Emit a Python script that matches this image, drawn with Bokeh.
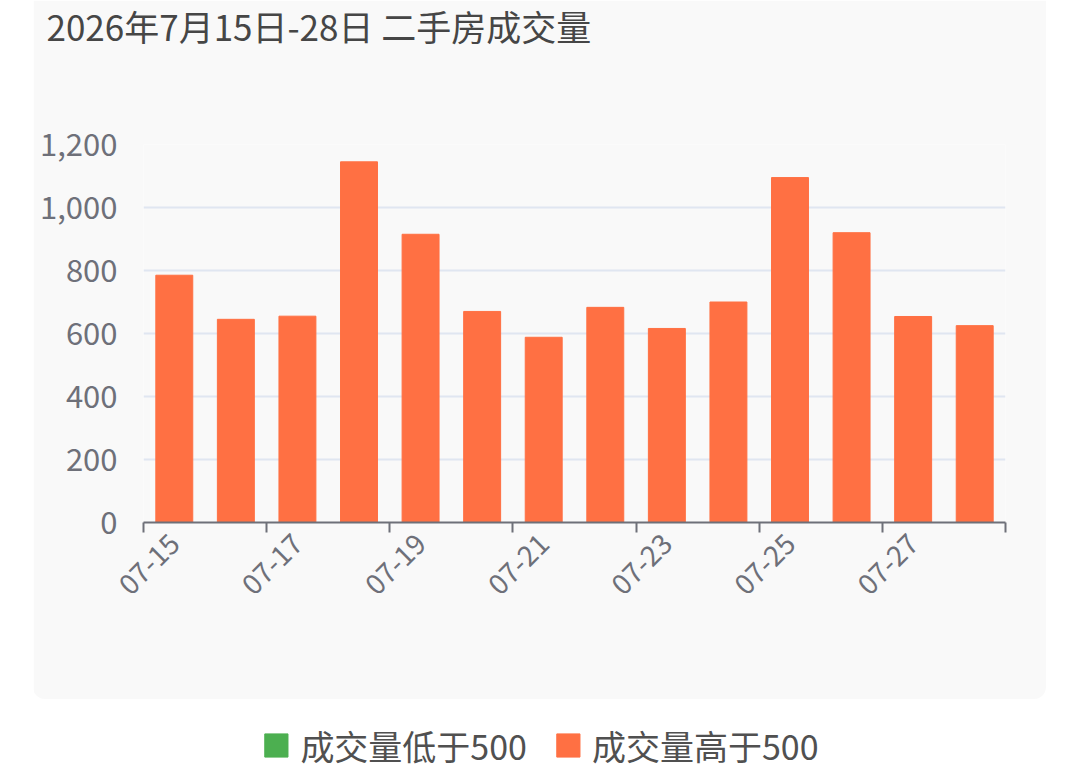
from math import pi
from bokeh.plotting import figure
from bokeh.models import (Range1d, FixedTicker, LinearAxis, NumeralTickFormatter, Title,
                          Legend, LegendItem, Spacer, Grid, ColumnDataSource)
from bokeh.layouts import column, row
from bokeh.embed import file_html
from bokeh.resources import INLINE

title_text = "2026年7月15日-28日 二手房成交量"
dates = ["07-15", "07-16", "07-17", "07-18", "07-19", "07-20", "07-21",
         "07-22", "07-23", "07-24", "07-25", "07-26", "07-27", "07-28"]
volumes = [785, 645, 655, 1145, 915, 670, 588, 683, 616, 700, 1095, 920, 654, 625]
threshold = 500
y_ticks = [0, 200, 400, 600, 800, 1000, 1200]
legend_low = "成交量低于500"
legend_high = "成交量高于500"

FONT = "Noto Sans CJK SC"
LOW_COLOR = "#4CAF50"
HIGH_COLOR = "#FF7043"
PANEL = "#f9f9f9"
AXIS_COLOR = "#6E7079"

idx = list(range(len(dates)))
low_src = ColumnDataSource(dict(x=[i for i, v in zip(idx, volumes) if v < threshold],
                                top=[v for v in volumes if v < threshold]))
high_src = ColumnDataSource(dict(x=[i for i, v in zip(idx, volumes) if v >= threshold],
                                 top=[v for v in volumes if v >= threshold]))

p = figure(width=1013, height=699,
           x_range=Range1d(-0.5, len(dates) - 0.5), y_range=Range1d(0, y_ticks[-1]),
           output_backend="svg", toolbar_location=None,
           x_axis_location=None, y_axis_location=None,
           min_border_left=110, min_border_right=41, min_border_top=144, min_border_bottom=177,
           border_fill_color=PANEL, background_fill_color=PANEL, outline_line_color=None)
p.styles = {"border-radius": "0px 0px 12px 12px", "overflow": "hidden"}
p.center = [r for r in p.center if not isinstance(r, Grid)]

# spacer panel between the frame and the title, then the title itself on top
p.add_layout(Title(text="\u3000", standoff=95, text_font_size="1px"), "above")
p.add_layout(Title(text=title_text, align="left", offset=-97, standoff=-8,
                   text_font=FONT, text_font_size="35px", text_font_style="normal",
                   text_color="#464646"), "above")

# y axis
yaxis = LinearAxis(ticker=FixedTicker(ticks=y_ticks), formatter=NumeralTickFormatter(format="0,0"))
yaxis.axis_line_color = None
yaxis.major_tick_line_color = None
yaxis.minor_tick_line_color = None
yaxis.major_label_text_font = FONT
yaxis.major_label_text_font_size = "31px"
yaxis.major_label_text_color = AXIS_COLOR
yaxis.major_label_standoff = 20
p.add_layout(yaxis, "left")
p.add_layout(Grid(dimension=1, ticker=yaxis.ticker, grid_line_color="#E0E6F1", grid_line_width=2))

# x axis: ticks at category boundaries
boundaries = [i - 0.5 for i in range(0, len(dates) + 1, 2)]
xaxis_ticks = LinearAxis(ticker=FixedTicker(ticks=boundaries))
xaxis_ticks.axis_line_color = AXIS_COLOR
xaxis_ticks.axis_line_width = 2
xaxis_ticks.major_tick_line_color = AXIS_COLOR
xaxis_ticks.major_tick_line_width = 2
xaxis_ticks.major_tick_in = 0
xaxis_ticks.major_tick_out = 10
xaxis_ticks.minor_tick_line_color = None
xaxis_ticks.major_label_text_font_size = "0px"
xaxis_ticks.major_label_standoff = 0
xaxis_ticks.major_label_overrides = {b: "" for b in boundaries}
p.add_layout(xaxis_ticks, "below")

# x axis: labels at category centres
label_pos = list(range(0, len(dates), 2))
xaxis_labels = LinearAxis(ticker=FixedTicker(ticks=label_pos))
xaxis_labels.axis_line_color = None
xaxis_labels.major_tick_line_color = None
xaxis_labels.minor_tick_line_color = None
xaxis_labels.major_label_overrides = {i: dates[i] for i in label_pos}
xaxis_labels.major_label_orientation = pi / 4
xaxis_labels.major_label_text_font = FONT
xaxis_labels.major_label_text_font_size = "28px"
xaxis_labels.major_label_text_color = AXIS_COLOR
xaxis_labels.major_label_standoff = 0
p.add_layout(xaxis_labels, "below")

p.vbar(x="x", top="top", width=0.6, source=low_src, color=LOW_COLOR)
p.vbar(x="x", top="top", width=0.6, source=high_src, color=HIGH_COLOR)

# legend strip (proxy renderers sit outside the visible range)
lf = figure(width=1080, height=50, x_range=Range1d(0, 1), y_range=Range1d(0, 1),
            output_backend="svg", toolbar_location=None, min_border=0,
            x_axis_location=None, y_axis_location=None, outline_line_color=None)
lf.center = [r for r in lf.center if not isinstance(r, Grid)]
r_low = lf.vbar(x=[-5], top=[0], width=0.5, color=LOW_COLOR)
r_high = lf.vbar(x=[-5], top=[0], width=0.5, color=HIGH_COLOR)
legend = Legend(items=[LegendItem(label=legend_low, renderers=[r_low]),
                       LegendItem(label=legend_high, renderers=[r_high])],
                orientation="horizontal", location="center",
                label_text_font=FONT, label_text_font_size="34px", label_text_color="#505050",
                glyph_width=29, glyph_height=29, spacing=26, label_standoff=10,
                background_fill_alpha=0, border_line_color=None, padding=0, margin=0)
lf.add_layout(legend)

layout = column(row(Spacer(width=33, height=699), p), Spacer(height=21), lf)
open("out.html", "w").write(file_html(layout, INLINE))
